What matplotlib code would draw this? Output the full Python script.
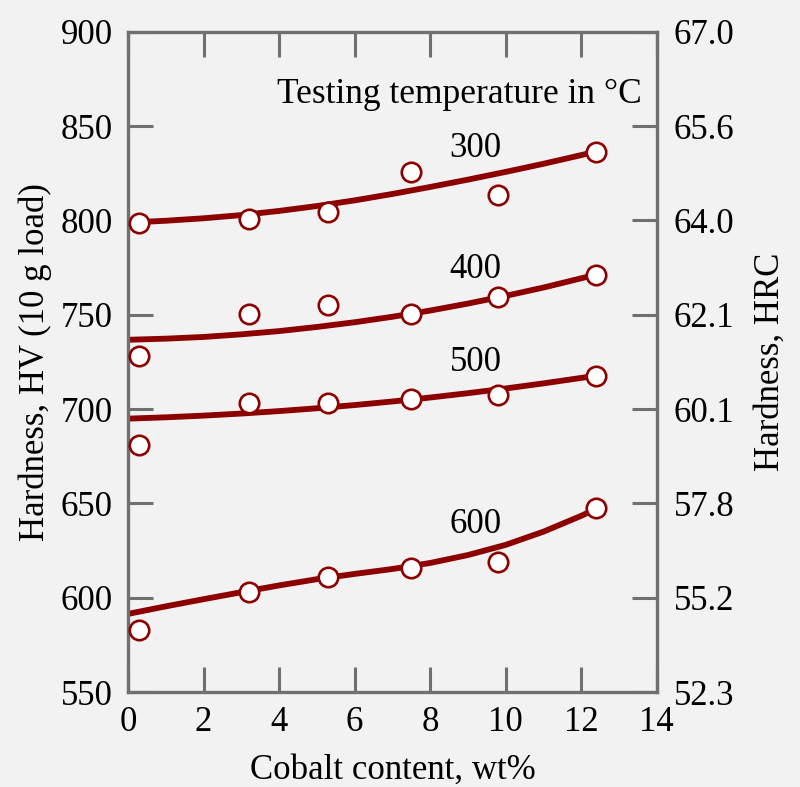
import numpy as np
import matplotlib
matplotlib.use('Agg')
import matplotlib.pyplot as plt

# measured points (HV) at each cobalt content
cobalt = [0.3, 3.2, 5.3, 7.5, 9.8, 12.4]
hv_300 = [798.8, 800.5, 804.4, 825.7, 813.5, 836.5]
hv_400 = [728.0, 750.5, 755.3, 750.5, 759.4, 770.8]
hv_500 = [681.0, 703.2, 703.2, 705.3, 707.6, 717.4]
hv_600 = [583.0, 603.2, 610.7, 615.8, 619.0, 647.4]

# trend curves
curve_x = [0, 1, 2, 3, 4, 5, 6, 7, 8, 9, 10, 11, 12, 12.4]
curve_300 = [798.8, 799.8, 801.1, 802.8, 805.0, 807.6, 810.6, 814.0, 817.7, 821.6, 825.7, 830.0, 834.6, 836.5]
curve_400 = [736.7, 737.3, 738.2, 739.6, 741.3, 743.5, 746.0, 748.9, 752.2, 755.9, 760.0, 764.4, 769.3, 771.3]
curve_500 = [694.9, 695.6, 696.5, 697.6, 698.9, 700.4, 702.1, 704.0, 706.1, 708.4, 710.9, 713.6, 716.5, 717.7]
curve_600 = [591.4, 595.4, 599.2, 602.9, 606.5, 609.8, 612.6, 615.2, 618.4, 622.6, 628.0, 635.0, 643.4, 647.2]

temps = ['300', '400', '500', '600']
label_y = [838, 774, 724.5, 639]

hv_ticks = [550, 600, 650, 700, 750, 800, 850, 900]
hrc_labels = ['52.3', '55.2', '57.8', '60.1', '62.1', '64.0', '65.6', '67.0']

red = '#8c0000'
grey = '#707070'
bg = '#f2f2f2'
fs = 25

plt.rcParams['font.family'] = ['Liberation Serif', 'DejaVu Serif']

fig = plt.figure(figsize=(8, 7.87), dpi=100, facecolor=bg)
ax = fig.add_axes([0.16, 0.1207, 0.661, 0.8390], facecolor=bg)

for cy in [curve_300, curve_400, curve_500, curve_600]:
    ax.plot(curve_x, cy, color=red, lw=4.2, solid_capstyle='butt', zorder=2)
for hv in [hv_300, hv_400, hv_500, hv_600]:
    ax.plot(cobalt, hv, 'o', ms=14, mfc='white', mec=red, mew=1.9, zorder=3, clip_on=False)

for t, yy in zip(temps, label_y):
    ax.text(9.2, yy, t, fontsize=fs, ha='center', va='center')
ax.text(13.6, 866.5, 'Testing temperature in \u00b0C', fontsize=25.5, ha='right', va='center')

ax.set_xlim(0, 14)
ax.set_ylim(550, 900)
ax.set_xticks(range(0, 15, 2))
ax.set_yticks(hv_ticks)
ax.tick_params(axis='both', direction='in', length=18, width=2.2, color=grey,
               labelsize=fs, pad=10, top=True)
ax.tick_params(axis='y', pad=11)
ax.set_xlabel('Cobalt content, wt%', fontsize=fs, labelpad=11)
ax.set_ylabel('Hardness, HV (10 g load)', fontsize=fs, labelpad=6)
for s in ax.spines.values():
    s.set_color(grey)
    s.set_linewidth(2.4)

ax2 = ax.twinx()
ax2.set_ylim(550, 900)
ax2.set_yticks(hv_ticks)
ax2.set_yticklabels(hrc_labels)
ax2.tick_params(axis='y', direction='in', length=18, width=2.2, color=grey,
                labelsize=fs, pad=12)
ax2.set_ylabel('Hardness, HRC', fontsize=fs, labelpad=14)
for s in ax2.spines.values():
    s.set_visible(False)

fig.savefig('out.png', dpi=100, facecolor=bg)
